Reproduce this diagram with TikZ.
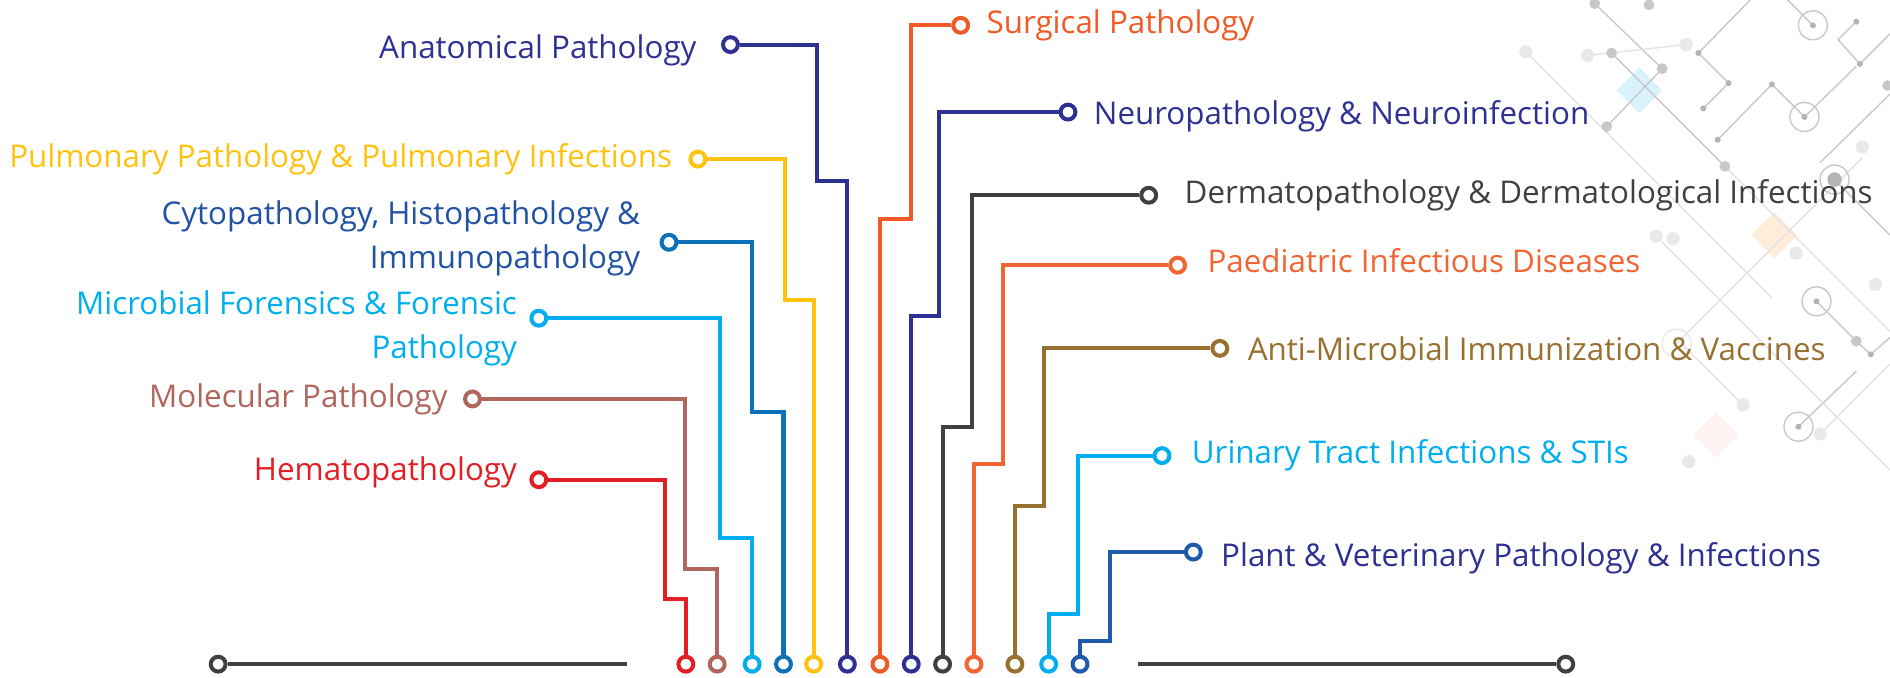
\documentclass[tikz,border=0pt]{standalone}
\usepackage{fontspec}
\setmainfont{Open Sans}
\usetikzlibrary{positioning}

\definecolor{hemared}{HTML}{E31E24}
\definecolor{molbrown}{HTML}{B0665C}
\definecolor{microcyan}{HTML}{00AEEF}
\definecolor{cytoblue}{HTML}{0B72B9}
\definecolor{cytotext}{HTML}{2152A3}
\definecolor{pulmyellow}{HTML}{FFC20E}
\definecolor{anatnavy}{HTML}{2E3192}
\definecolor{surgorange}{HTML}{F15A24}
\definecolor{dermgray}{HTML}{404040}
\definecolor{paedorange}{HTML}{F26532}
\definecolor{antigold}{HTML}{987131}
\definecolor{plantblue}{HTML}{1F5BAA}
\definecolor{deco}{HTML}{C8C8C8}

\begin{document}
\begin{tikzpicture}[
   x=0.6pt, y=-0.6pt,
   pin/.style={circle, draw=#1, fill=white, line width=2pt, minimum size=7.4pt, inner sep=0pt},
   wire/.style={line width=2pt},
   lbl/.style={font=\fontsize{15.6}{22.2}\selectfont, inner sep=0pt, align=right},
   rlbl/.style={lbl, align=left}
]
\useasboundingbox (0,0) rectangle (1568,562);

% circuit pattern in the corner
\begin{scope}[deco, line width=0.7pt]
  \fill[cyan!15] (1360,56) -- (1379,75) -- (1360,94) -- (1341,75) -- cycle;
  \fill[orange!15] (1472,176) -- (1491,195) -- (1472,214) -- (1453,195) -- cycle;
  \fill[red!5] (1424,342) -- (1443,361) -- (1424,380) -- (1405,361) -- cycle;
  \draw (1323,3) -- (1379,57) (1333,105) -- (1379,57)
        (1337,44) -- (1431,138) (1409,44) -- (1434,69) -- (1413,90)
        (1409,44) -- (1452,0) (1425,116) -- (1470,70) -- (1497,97)
        (1504,21) -- (1483,0) (1540,18) -- (1525,33) -- (1543,53) -- (1568,28)
        (1497,97) -- (1540,55) (1510,135) -- (1568,78) (1522,149) -- (1568,195)
        (1507,250) -- (1540,283) -- (1552,294) -- (1568,280)
        (1492,354) -- (1540,308);
  \draw[deco!50] (1266,43) -- (1360,137) -- (1470,247) (1374,196) -- (1568,390)
        (1391,285) -- (1545,131) (1446,336) -- (1395,285) (1317,46) -- (1399,37)
        (1431,138) -- (1568,275) (1510,360) -- (1568,302);
  \foreach \p in {(1323,3),(1368,4),(1337,44),(1379,57),(1333,105),(1431,138),(1566,71),(1540,283)}
    \fill[deco] \p circle (4.5);
  \foreach \p in {(1409,44),(1470,70),(1543,53),(1540,18),(1434,69),(1413,90),(1425,116),(1504,21),(1497,97),(1507,250),(1552,294),(1492,354)}
    \fill[deco!90!black] \p circle (2.5);
  \fill[deco!90!black] (1522,149) circle (6);
  \foreach \p in {(1266,43),(1317,46),(1399,37),(1545,122),(1490,210),(1374,196),(1388,198),(1556,236),(1446,336),(1510,360),(1401,383)}
    \fill[deco!40] \p circle (5.5);
  \foreach \p in {(1504,21),(1497,97),(1522,149),(1507,250),(1492,354)}
    \draw \p circle (12);
  \draw[deco!40] (1391,285) circle (12);
\end{scope}

% bottom rail
\node[pin=dermgray] (lend) at (181,551) {};
\coordinate (lstop) at (520,551);
\coordinate (rstart) at (944,551);
\node[pin=dermgray] (rend) at (1299,551) {};
\draw[wire, dermgray] (lend) -- (lstop);
\draw[wire, dermgray] (rstart) -- (rend);

% bottom pins
\node[pin=hemared] (hema-b) at (569,551) {};
\node[pin=molbrown] (mol-b) at (595,551) {};
\node[pin=microcyan] (micro-b) at (624,551) {};
\node[pin=cytoblue] (cyto-b) at (650,551) {};
\node[pin=pulmyellow] (pulm-b) at (675,551) {};
\node[pin=anatnavy] (anat-b) at (703,551) {};
\node[pin=surgorange] (surg-b) at (730,551) {};
\node[pin=anatnavy] (neuro-b) at (756,551) {};
\node[pin=dermgray] (derm-b) at (782,551) {};
\node[pin=paedorange] (paed-b) at (808,551) {};
\node[pin=antigold] (anti-b) at (842,551) {};
\node[pin=microcyan] (uri-b) at (870,551) {};
\node[pin=plantblue] (plant-b) at (896,551) {};

% left branches
\node[pin=hemared] (hema) at (447,398) {};
\node[lbl, hemared, left=6pt of hema, yshift=3.5pt] {Hematopathology};
\draw[wire, hemared] (hema) -| (552,497) -| (hema-b);

\node[pin=molbrown] (mol) at (392,331) {};
\node[lbl, molbrown, left=7.5pt of mol] {Molecular Pathology};
\draw[wire, molbrown] (mol) -| (568,472) -| (mol-b);

\node[pin=microcyan] (micro) at (447,264) {};
\node[lbl, microcyan, left=6pt of micro, yshift=-5pt] {Microbial Forensics \& Forensic\\Pathology};
\draw[wire, microcyan] (micro) -| (597,446) -| (micro-b);

\node[pin=cytoblue] (cyto) at (555,201) {};
\node[lbl, cytotext, left=9.5pt of cyto, yshift=2pt] {Cytopathology, Histopathology \&\\Immunopathology};
\draw[wire, cytoblue] (cyto) -| (624,342) -| (cyto-b);

\node[pin=pulmyellow] (pulm) at (579,132) {};
\node[lbl, pulmyellow, left=8pt of pulm] {Pulmonary Pathology \& Pulmonary Infections};
\draw[wire, pulmyellow] (pulm) -| (651,249) -| (pulm-b);

\node[pin=anatnavy] (anat) at (606,37) {};
\node[lbl, anatnavy, left=12pt of anat, yshift=-3pt] {Anatomical Pathology};
\draw[wire, anatnavy] (anat) -| (678,150) -| (anat-b);

% right branches
\node[pin=surgorange] (surg) at (797,21) {};
\node[rlbl, surgorange, right=8pt of surg] {Surgical Pathology};
\draw[wire, surgorange] (surg-b) |- (756,182) |- (surg);

\node[pin=anatnavy] (neuro) at (886,93) {};
\node[rlbl, anatnavy, right=8pt of neuro, yshift=-2pt] {Neuropathology \& Neuroinfection};
\draw[wire, anatnavy] (neuro-b) |- (779,262) |- (neuro);

\node[pin=dermgray] (derm) at (953,162) {};
\node[rlbl, dermgray, right=13pt of derm] {Dermatopathology \& Dermatological Infections};
\draw[wire, dermgray] (derm-b) |- (806,354) |- (derm);

\node[pin=paedorange] (paed) at (977,220) {};
\node[rlbl, paedorange, right=10pt of paed, yshift=2pt] {Paediatric Infectious Diseases};
\draw[wire, paedorange] (paed-b) |- (832,385) |- (paed);

\node[pin=antigold] (anti) at (1012,289) {};
\node[rlbl, antigold, right=9pt of anti] {Anti-Microbial Immunization \& Vaccines};
\draw[wire, antigold] (anti-b) |- (866,420) |- (anti);

\node[pin=microcyan] (uri) at (964,378) {};
\node[rlbl, microcyan, right=10pt of uri] {Urinary Tract Infections \& STIs};
\draw[wire, microcyan] (uri-b) |- (894,509) |- (uri);

\node[pin=plantblue] (plant) at (990,458) {};
\node[rlbl, anatnavy, right=9pt of plant, yshift=-3pt] {Plant \& Veterinary Pathology \& Infections};
\draw[wire, plantblue] (plant-b) |- (921,532) |- (plant);
\end{tikzpicture}
\end{document}
